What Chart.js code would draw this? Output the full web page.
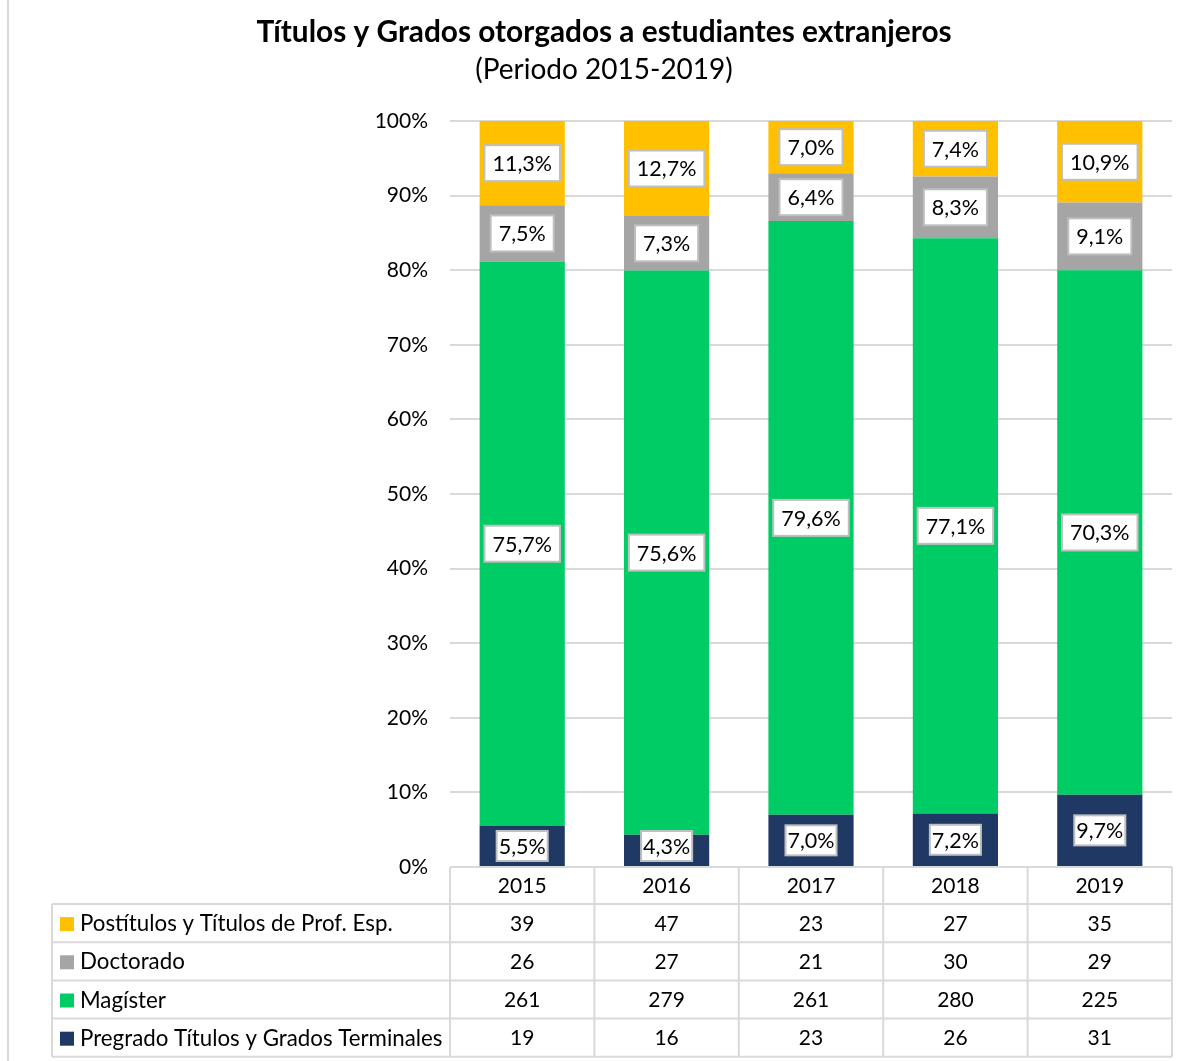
<!DOCTYPE html>
<html>
<head>
<meta charset="utf-8">
<script src="https://cdn.jsdelivr.net/npm/chart.js@4.4.1/dist/chart.umd.min.js"></script>
<style>
  html, body { margin: 0; padding: 0; background: #ffffff; }
  #wrap { width: 1191px; height: 1061px; position: relative; }
</style>
</head>
<body>
<div id="wrap"><canvas id="c"></canvas></div>
<script>
// ---- Data ----
const years = ['2015', '2016', '2017', '2018', '2019'];
const postitulos = [39, 47, 23, 27, 35];
const doctorado = [26, 27, 21, 30, 29];
const magister = [261, 279, 261, 280, 225];
const pregrado = [19, 16, 23, 26, 31];
const seriesNames = ['Postítulos y Títulos de Prof. Esp.', 'Doctorado', 'Magíster', 'Pregrado Títulos y Grados Terminales'];
const titleText = 'Títulos y Grados otorgados a estudiantes extranjeros';
const subtitleText = '(Periodo 2015-2019)';

const colors = {
  post: '#FFC000',
  doc: '#A5A5A5',
  mag: '#00CC66',
  pre: '#203864'
};

const totals = years.map((_, i) => postitulos[i] + doctorado[i] + magister[i] + pregrado[i]);
const pct = arr => arr.map((v, i) => v / totals[i] * 100);

const FONT = 'Lato, "Open Sans", sans-serif';
const fmt = v => v.toFixed(1).replace('.', ',') + '%';

// rows of the table (top to bottom) with raw counts
const tableRows = [
  { name: seriesNames[0], color: colors.post, values: postitulos },
  { name: seriesNames[1], color: colors.doc, values: doctorado },
  { name: seriesNames[2], color: colors.mag, values: magister },
  { name: seriesNames[3], color: colors.pre, values: pregrado }
];

const extrasPlugin = {
  id: 'extras',
  beforeDraw(chart) {
    const ctx = chart.ctx;
    ctx.save();
    ctx.fillStyle = '#ffffff';
    ctx.fillRect(0, 0, chart.width, chart.height);
    // left frame line
    ctx.strokeStyle = '#d9d9d9';
    ctx.lineWidth = 2;
    ctx.beginPath();
    ctx.moveTo(8, 0); ctx.lineTo(8, chart.height);
    ctx.stroke();
    ctx.restore();
  },
  afterDraw(chart) {
    const ctx = chart.ctx;
    const area = chart.chartArea;
    const xs = chart.scales.x;
    ctx.save();
    // Title
    ctx.fillStyle = '#000000';
    ctx.textAlign = 'center';
    ctx.textBaseline = 'middle';
    ctx.font = 'bold 29.8px ' + FONT;
    ctx.fillText(titleText, 604, 32);
    ctx.font = '28px ' + FONT;
    ctx.fillText(subtitleText, 604, 70);

    // Data table
    const colW = (area.right - area.left) / years.length;
    const headTop = area.bottom;
    const rowH = 38.2;
    const headBottom = headTop + 37;
    const tableBottom = headBottom + rowH * tableRows.length;
    const legLeft = 52;
    ctx.strokeStyle = '#d9d9d9';
    ctx.lineWidth = 2;
    ctx.beginPath();
    ctx.moveTo(area.left, headTop); ctx.lineTo(area.right, headTop);
    for (let i = 0; i <= years.length; i++) {
      const x = area.left + i * colW;
      ctx.moveTo(x, headTop); ctx.lineTo(x, tableBottom);
    }
    ctx.moveTo(legLeft, headBottom); ctx.lineTo(legLeft, tableBottom);
    for (let r = 0; r <= tableRows.length; r++) {
      const y = headBottom + r * rowH;
      ctx.moveTo(legLeft, y); ctx.lineTo(area.right, y);
    }
    ctx.stroke();

    ctx.fillStyle = '#000000';
    ctx.font = '21px ' + FONT;
    ctx.textAlign = 'center';
    ctx.textBaseline = 'middle';
    years.forEach((yr, i) => {
      ctx.fillText(yr, xs.getPixelForValue(i), (headTop + headBottom) / 2 + 1);
    });
    tableRows.forEach((row, r) => {
      const yc = headBottom + r * rowH + rowH / 2 + 1;
      ctx.fillStyle = row.color;
      ctx.fillRect(60, yc - 7, 14, 14);
      ctx.fillStyle = '#000000';
      ctx.textAlign = 'left';
      ctx.font = '22.3px ' + FONT;
      ctx.fillText(row.name, 80, yc);
      ctx.textAlign = 'center';
      ctx.font = '21px ' + FONT;
      row.values.forEach((v, i) => {
        ctx.fillText(String(v), xs.getPixelForValue(i), yc);
      });
    });

    // Data labels
    chart.data.datasets.forEach((ds, di) => {
      const meta = chart.getDatasetMeta(di);
      meta.data.forEach((bar, i) => {
        const v = ds.data[i];
        const text = fmt(v);
        ctx.font = '21.5px ' + FONT;
        const tw = ctx.measureText(text).width;
        const tight = ds.tightLabel;
        const padX = tight ? 2 : 8;
        const bh = tight ? 30 : 36;
        const bw = tw + padX * 2;
        const cx = bar.x;
        let cy = (bar.y + bar.base) / 2;
        if (tight) cy = Math.min(cy, bar.base - bh / 2 - 5);
        ctx.fillStyle = '#ffffff';
        ctx.fillRect(cx - bw / 2, cy - bh / 2, bw, bh);
        ctx.strokeStyle = '#bfbfbf';
        ctx.lineWidth = 2;
        ctx.strokeRect(cx - bw / 2, cy - bh / 2, bw, bh);
        ctx.fillStyle = '#000000';
        ctx.textAlign = 'center';
        ctx.textBaseline = 'middle';
        ctx.fillText(text, cx, cy + 1);
      });
    });
    ctx.restore();
  }
};

new Chart(document.getElementById('c'), {
  type: 'bar',
  data: {
    labels: years,
    datasets: [
      { label: seriesNames[3], data: pct(pregrado), backgroundColor: colors.pre, tightLabel: true },
      { label: seriesNames[2], data: pct(magister), backgroundColor: colors.mag },
      { label: seriesNames[1], data: pct(doctorado), backgroundColor: colors.doc },
      { label: seriesNames[0], data: pct(postitulos), backgroundColor: colors.post }
    ]
  },
  options: {
    responsive: true,
    maintainAspectRatio: false,
    animation: false,
    events: [],
    layout: { padding: { top: 121, right: 19, bottom: 194, left: 0 } },
    plugins: {
      legend: { display: false },
      title: { display: false },
      tooltip: { enabled: false }
    },
    datasets: { bar: { categoryPercentage: 1, barPercentage: 0.59, borderWidth: 0 } },
    scales: {
      x: {
        stacked: true,
        display: false
      },
      y: {
        stacked: true,
        min: 0,
        max: 100,
        afterFit(scale) { scale.width = 450; },
        border: { display: false },
        grid: { color: '#d9d9d9', lineWidth: 2, drawTicks: false },
        ticks: {
          stepSize: 10,
          padding: 22,
          color: '#000000',
          font: { family: FONT, size: 21 },
          callback: v => v + '%'
        }
      }
    }
  },
  plugins: [extrasPlugin]
});
</script>
</body>
</html>
